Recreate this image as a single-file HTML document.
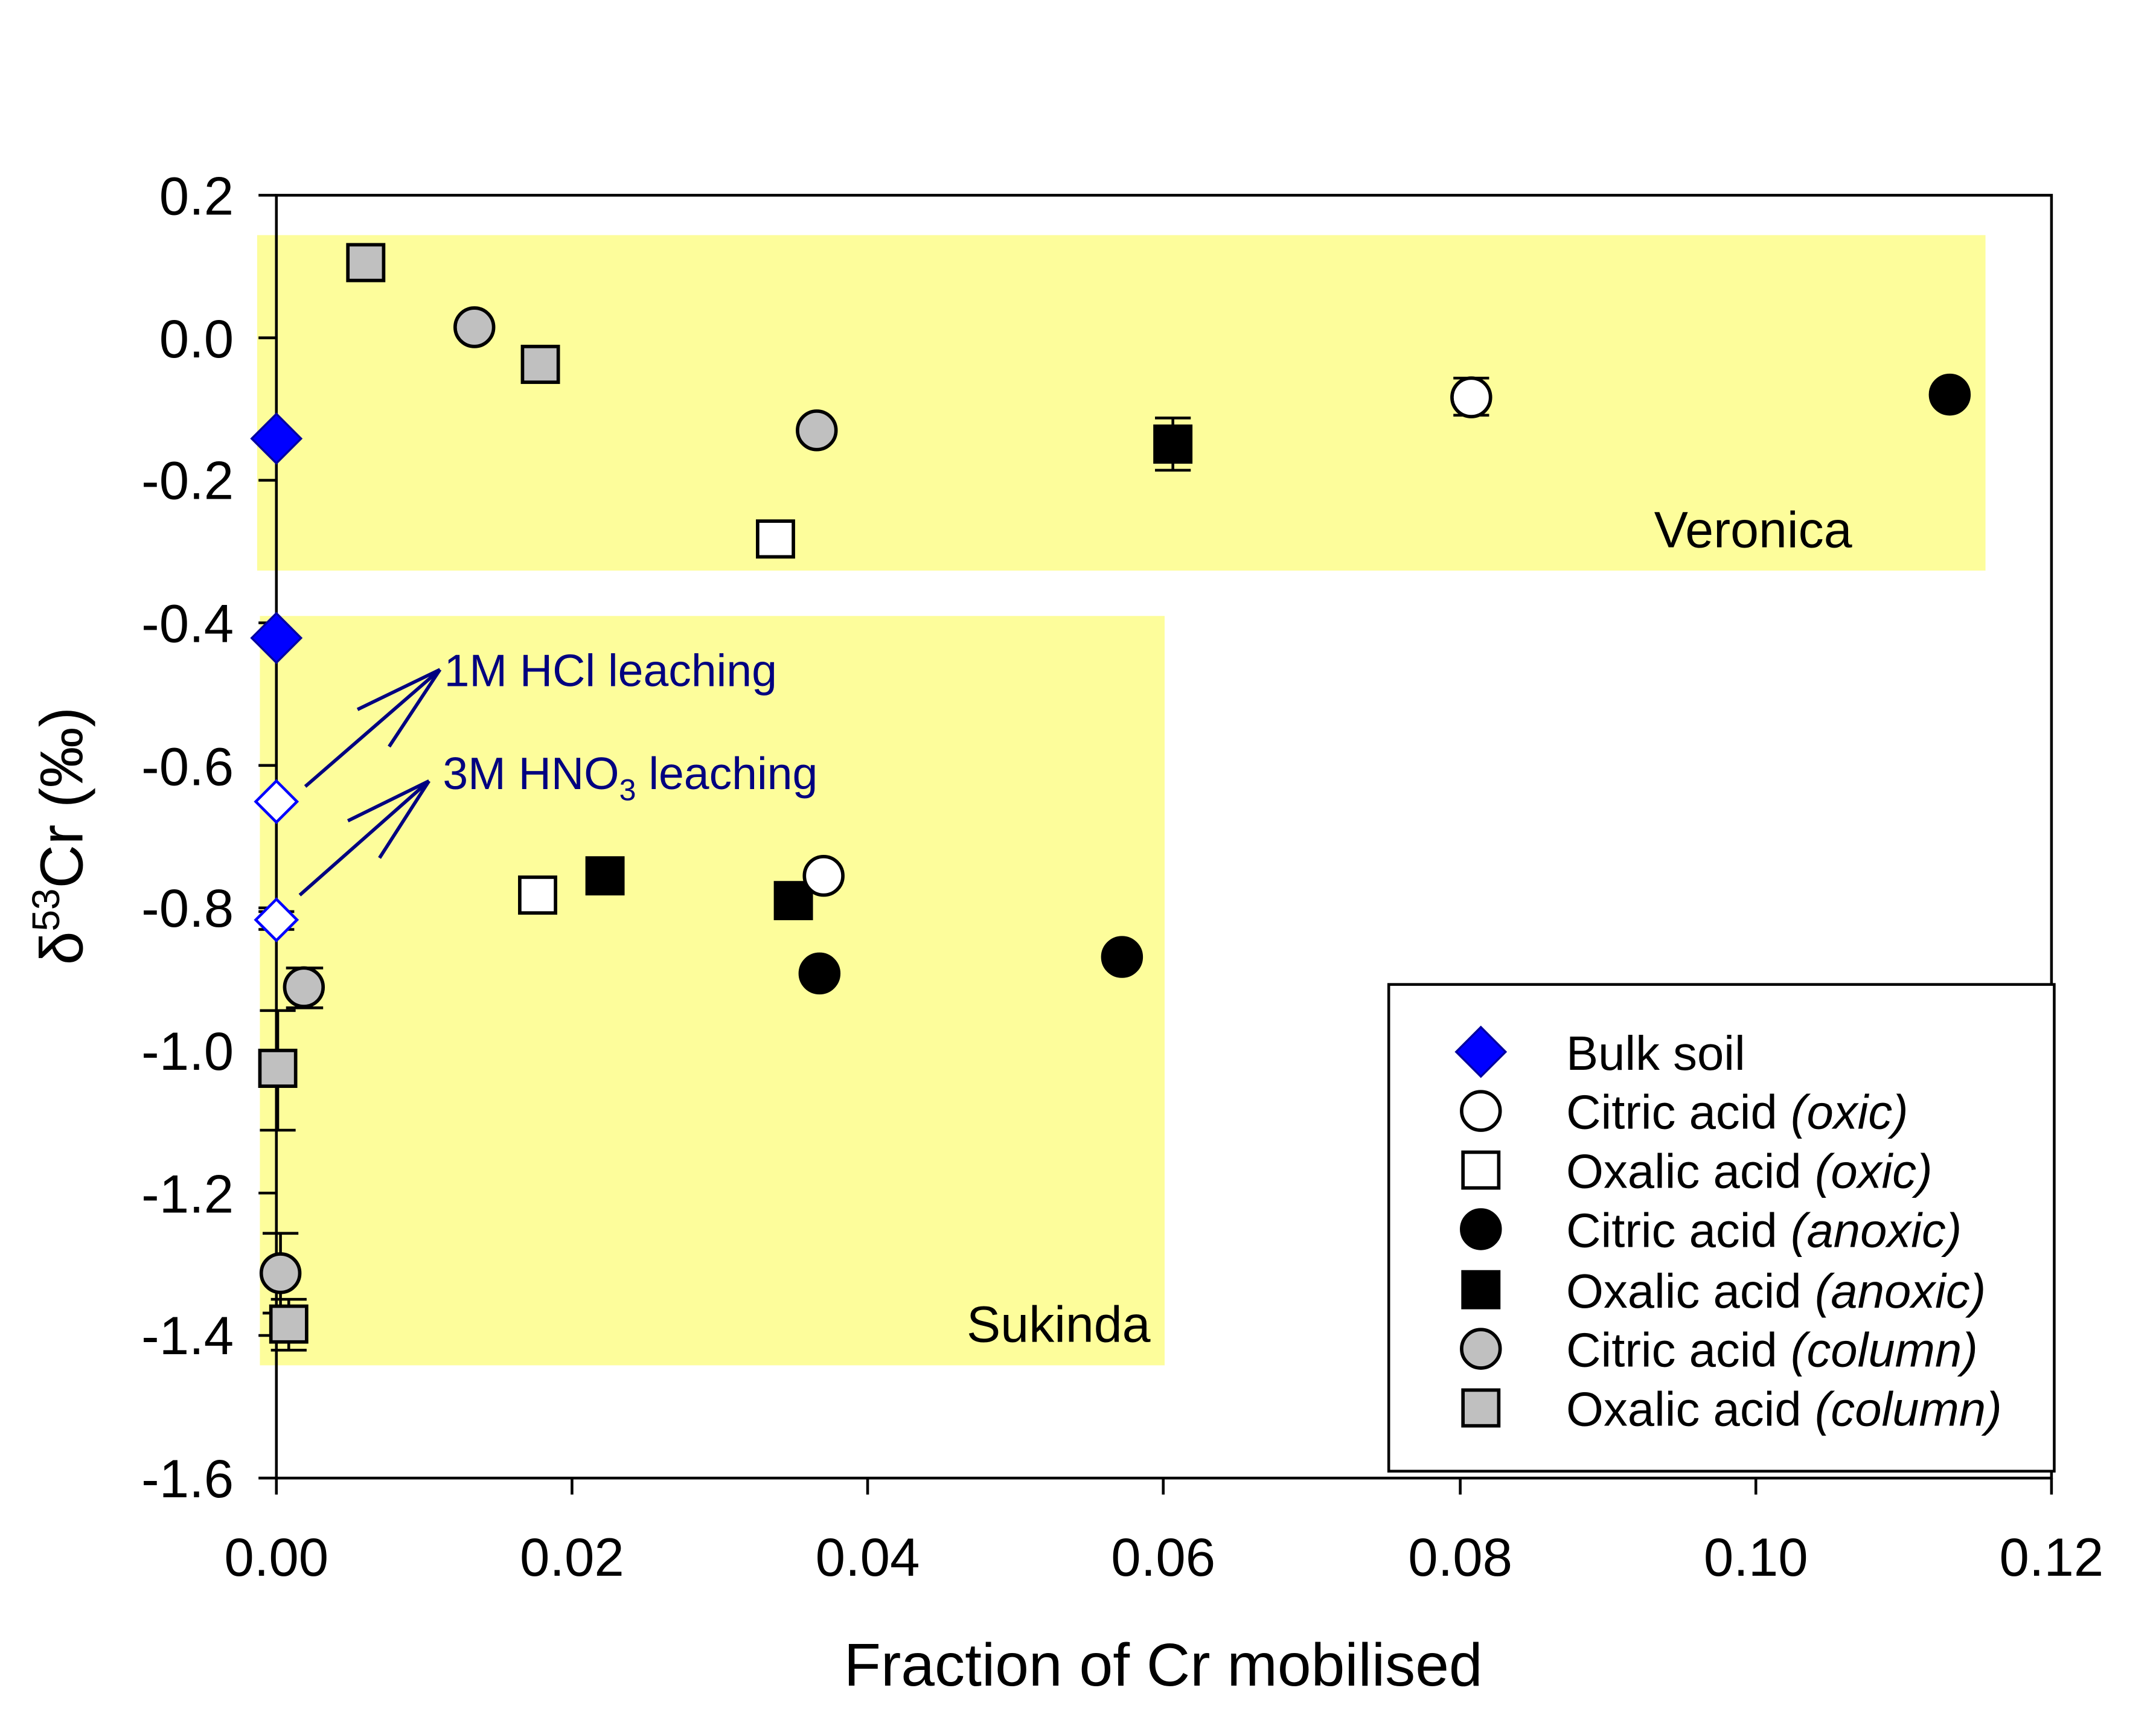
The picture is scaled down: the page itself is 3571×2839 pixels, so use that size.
<!DOCTYPE html>
<html><head><meta charset="utf-8"><style>html,body{margin:0;padding:0;background:#fff}svg{display:block}</style></head>
<body>
<svg width="3571" height="2839" viewBox="0 0 1568 1246.6" xmlns="http://www.w3.org/2000/svg" font-family="Liberation Sans, sans-serif">
<rect x="0" y="0" width="1568" height="1247" fill="#fff"/>
<rect x="187" y="171" width="1257" height="244" fill="#fdfd9b"/>
<rect x="189" y="448" width="658" height="545" fill="#fdfd9b"/>
<g stroke="#000" stroke-width="2" fill="none">
<rect x="201" y="142" width="1291" height="933"/>
<line x1="188" y1="142" x2="201" y2="142"/>
<line x1="188" y1="245.7" x2="201" y2="245.7"/>
<line x1="188" y1="349.3" x2="201" y2="349.3"/>
<line x1="188" y1="453" x2="201" y2="453"/>
<line x1="188" y1="556.7" x2="201" y2="556.7"/>
<line x1="188" y1="660.3" x2="201" y2="660.3"/>
<line x1="188" y1="764" x2="201" y2="764"/>
<line x1="188" y1="867.7" x2="201" y2="867.7"/>
<line x1="188" y1="971.3" x2="201" y2="971.3"/>
<line x1="188" y1="1075" x2="201" y2="1075"/>
<line x1="201" y1="1075" x2="201" y2="1087"/>
<line x1="416" y1="1075" x2="416" y2="1087"/>
<line x1="631" y1="1075" x2="631" y2="1087"/>
<line x1="846" y1="1075" x2="846" y2="1087"/>
<line x1="1062" y1="1075" x2="1062" y2="1087"/>
<line x1="1277" y1="1075" x2="1277" y2="1087"/>
<line x1="1492" y1="1075" x2="1492" y2="1087"/>
</g>
<g font-size="39" text-anchor="end" fill="#000">
<text x="170" y="156">0.2</text><text x="170" y="260">0.0</text><text x="170" y="363">-0.2</text>
<text x="170" y="467">-0.4</text><text x="170" y="571">-0.6</text><text x="170" y="674">-0.8</text>
<text x="170" y="778">-1.0</text><text x="170" y="882">-1.2</text><text x="170" y="985">-1.4</text>
<text x="170" y="1089">-1.6</text>
</g>
<g font-size="39" text-anchor="middle" fill="#000">
<text x="201" y="1146">0.00</text><text x="416" y="1146">0.02</text><text x="631" y="1146">0.04</text>
<text x="846" y="1146">0.06</text><text x="1062" y="1146">0.08</text><text x="1277" y="1146">0.10</text><text x="1492" y="1146">0.12</text>
</g>
<text x="846" y="1226" font-size="44" text-anchor="middle">Fraction of Cr mobilised</text>
<text transform="translate(60,608) rotate(-90)" font-size="44" text-anchor="middle">δ<tspan font-size="28" dy="-17">53</tspan><tspan dy="17">Cr (‰)</tspan></text>
<text x="1203" y="398" font-size="37">Veronica</text>
<text x="703" y="976" font-size="37">Sukinda</text>
<g stroke="#000080" stroke-width="2.5" fill="none">
<line x1="222" y1="572" x2="320" y2="487"/><line x1="260" y1="516" x2="320" y2="487"/><line x1="283" y1="543" x2="320" y2="487"/>
<line x1="218" y1="651" x2="312" y2="568"/><line x1="253" y1="597" x2="312" y2="568"/><line x1="276" y1="624" x2="312" y2="568"/>
</g>
<text x="323" y="499" font-size="33" fill="#000080">1M HCl leaching</text>
<text x="322" y="574" font-size="33" fill="#000080">3M HNO<tspan font-size="22" dy="8">3</tspan><tspan dy="-8"> leaching</tspan></text>
<g stroke="#000" stroke-width="2">
<line x1="853" y1="304" x2="853" y2="342"/><line x1="840" y1="304" x2="866" y2="304"/><line x1="840" y1="342" x2="866" y2="342"/>
<line x1="221" y1="704" x2="221" y2="733"/><line x1="208" y1="704" x2="235" y2="704"/><line x1="208" y1="733" x2="235" y2="733"/>
<line x1="202" y1="735" x2="202" y2="822"/><line x1="189" y1="735" x2="215" y2="735"/><line x1="189" y1="822" x2="215" y2="822"/>
<line x1="204" y1="897" x2="204" y2="955"/><line x1="191" y1="897" x2="217" y2="897"/><line x1="191" y1="955" x2="217" y2="955"/>
<line x1="210" y1="945" x2="210" y2="982"/><line x1="197" y1="945" x2="223" y2="945"/><line x1="197" y1="982" x2="223" y2="982"/>
<line x1="1057" y1="275" x2="1083" y2="275"/><line x1="1057" y1="302" x2="1083" y2="302"/>
<line x1="551" y1="380" x2="577" y2="380"/><line x1="551" y1="404" x2="577" y2="404"/>
<line x1="188" y1="462" x2="214" y2="462"/><line x1="188" y1="467" x2="214" y2="467"/>
<line x1="188" y1="663" x2="214" y2="663"/><line x1="188" y1="676" x2="214" y2="676"/>
</g>
<g stroke="#000" stroke-width="2.5">
<rect x="253" y="178" width="26" height="26" fill="#c0c0c0"/>
<rect x="380" y="252" width="26" height="26" fill="#c0c0c0"/>
<rect x="189" y="764" width="26" height="26" fill="#c0c0c0"/>
<rect x="197" y="950" width="26" height="26" fill="#c0c0c0"/>
<circle cx="345" cy="238" r="14" fill="#c0c0c0"/>
<circle cx="594" cy="313" r="14" fill="#c0c0c0"/>
<circle cx="221" cy="718" r="14" fill="#c0c0c0"/>
<circle cx="204" cy="926" r="14" fill="#c0c0c0"/>
<rect x="551" y="379" width="26" height="26" fill="#fff"/>
<rect x="378" y="638" width="26" height="26" fill="#fff"/>
<rect x="840" y="310" width="26" height="26" fill="#000"/>
<rect x="427" y="624" width="26" height="26" fill="#000"/>
<rect x="564" y="642" width="26" height="26" fill="#000"/>
<circle cx="1070" cy="289" r="14" fill="#fff"/>
<circle cx="599" cy="637" r="14" fill="#fff"/>
<circle cx="1418" cy="287" r="14" fill="#000"/>
<circle cx="596" cy="708" r="14" fill="#000"/>
<circle cx="816" cy="696" r="14" fill="#000"/>
</g>
<g stroke="#0000a0" stroke-width="1.5">
<polygon points="201,301 219,319 201,337 183,319" fill="#0000ff"/>
<polygon points="201,446 219,464 201,482 183,464" fill="#0000ff"/>
</g>
<g stroke="#0000ff" stroke-width="2">
<polygon points="201,568 216,583 201,598 186,583" fill="#fff"/>
<polygon points="201,654 216,669 201,684 186,669" fill="#fff"/>
</g>
<rect x="1010" y="716" width="484" height="354" fill="#fff" stroke="#000" stroke-width="2"/>
<g stroke="#000" stroke-width="2.5">
<polygon points="1077,747 1095,765 1077,783 1059,765" fill="#0000ff" stroke="#0000a0" stroke-width="1.5"/>
<circle cx="1077" cy="808" r="14" fill="#fff"/>
<rect x="1064" y="838" width="26" height="26" fill="#fff"/>
<circle cx="1077" cy="894" r="14" fill="#000"/>
<rect x="1064" y="925" width="26" height="26" fill="#000"/>
<circle cx="1077" cy="981" r="14" fill="#c0c0c0"/>
<rect x="1064" y="1011" width="26" height="26" fill="#c0c0c0"/>
</g>
<g font-size="35" fill="#000">
<text x="1139" y="778">Bulk soil</text>
<text x="1139" y="821">Citric acid <tspan font-style="italic">(oxic)</tspan></text>
<text x="1139" y="864">Oxalic acid <tspan font-style="italic">(oxic)</tspan></text>
<text x="1139" y="907">Citric acid <tspan font-style="italic">(anoxic)</tspan></text>
<text x="1139" y="951">Oxalic acid <tspan font-style="italic">(anoxic)</tspan></text>
<text x="1139" y="994">Citric acid <tspan font-style="italic">(column)</tspan></text>
<text x="1139" y="1037">Oxalic acid <tspan font-style="italic">(column)</tspan></text>
</g>
</svg>
</body></html>
